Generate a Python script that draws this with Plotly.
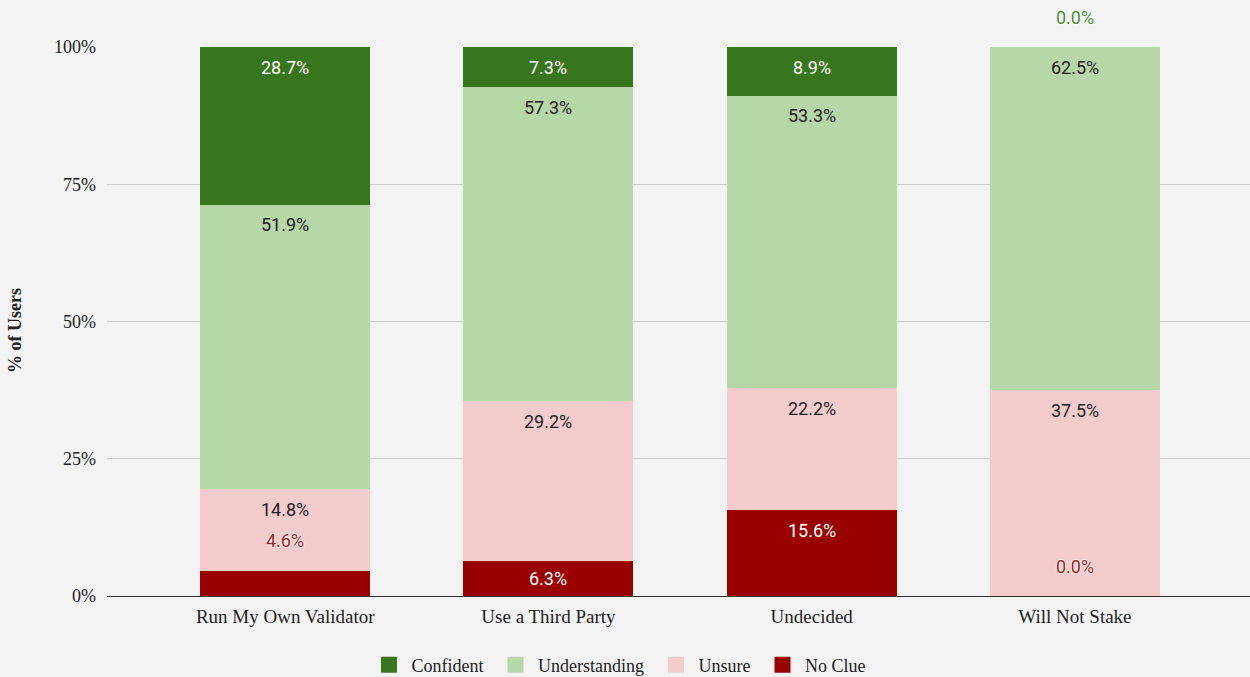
import plotly.graph_objects as go

categories = ["Run My Own Validator", "Use a Third Party", "Undecided", "Will Not Stake"]
series_names = ["No Clue", "Unsure", "Understanding", "Confident"]  # bottom to top
no_clue = [4.6, 6.3, 15.6, 0.0]
unsure = [14.8, 29.2, 22.2, 37.5]
understanding = [51.9, 57.3, 53.3, 62.5]
confident = [28.7, 7.3, 8.9, 0.0]
y_ticks = [0, 25, 50, 75, 100]

series_values = [no_clue, unsure, understanding, confident]
colors = ["#990000", "#f4cccc", "#b6d7a8", "#38761d"]
label_colors_inside = ["#ffffff", "#222222", "#222222", "#ffffff"]
label_colors_outside = ["#a52020", "#a52020", "#4a8c3a", "#4a8c3a"]
legend_ranks = [4, 3, 2, 1]

SERIF = "Liberation Serif"
SANS = "Roboto"
PX_PER_PCT = 549 / 100.0

fig = go.Figure()
totals = [sum(s[i] for s in series_values) for i in range(len(categories))]

for k, (name, vals) in enumerate(zip(series_names, series_values)):
    norm = [v / t * 100 for v, t in zip(vals, totals)]
    fig.add_trace(go.Bar(
        x=categories, y=norm, name=name, marker=dict(color=colors[k], line=dict(width=0)),
        width=0.646, showlegend=False, legendgroup=name, hoverinfo="name+y",
    ))
    # legend proxy with a larger square symbol
    fig.add_trace(go.Scatter(
        x=[None], y=[None], mode="markers", name=name + "\u00a0", legendgroup=name,
        marker=dict(symbol="square", size=16, color=colors[k], line=dict(width=0)),
        legendrank=legend_ranks[k], hoverinfo="skip",
    ))

annotations = []
for i, cat in enumerate(categories):
    base = 0.0
    for k, vals in enumerate(series_values):
        h = vals[i] / totals[i] * 100
        top = base + h
        hpx = h * PX_PER_PCT
        txt = f"{vals[i]:.1f}%"
        if hpx >= 30:
            annotations.append(dict(
                x=cat, y=top, xref="x", yref="y", text=txt, showarrow=False,
                yanchor="middle", yshift=-min(20, hpx / 2),
                font=dict(family=SANS, size=18, color=label_colors_inside[k]),
            ))
        else:
            annotations.append(dict(
                x=cat, y=top, xref="x", yref="y", text=txt, showarrow=False,
                yanchor="middle", yshift=30,
                font=dict(family=SANS, size=18, color=label_colors_outside[k],
                          shadow="0 0 2px white, 0 0 2px white, 0 0 2px white"),
            ))
        base = top

annotations.append(dict(
    text="<b>% of Users</b>", textangle=-90, xref="paper", yref="paper",
    x=(15 - 107) / 1143, y=(596 - 331) / 549, xanchor="center", yanchor="middle", showarrow=False,
    font=dict(family=SERIF, size=18, color="#222222"),
))

fig.update_layout(
    width=1250, height=677,
    paper_bgcolor="#f3f3f3", plot_bgcolor="#f3f3f3",
    margin=dict(l=107, r=0, t=47, b=81),
    barmode="stack",
    bargap=0.354,
    showlegend=True,
    legend=dict(
        orientation="h", traceorder="normal", xref="paper", x=(621 - 107) / 1143, xanchor="center",
        yref="container", y=1 - 665 / 677, yanchor="middle",
        font=dict(family=SERIF, size=18, color="#222222"), itemwidth=35,
        bgcolor="rgba(0,0,0,0)",
    ),
    xaxis=dict(
        type="category", categoryorder="array", categoryarray=categories,
        range=[-0.677, 3.665], showgrid=False, showline=True, linecolor="#333333", linewidth=1,
        tickfont=dict(family=SERIF, size=19, color="#222222"), ticks="", ticklabelstandoff=3,
    ),
    yaxis=dict(
        range=[0, 100], tickvals=y_ticks, ticktext=[f"{v}%" for v in y_ticks],
        showgrid=True, gridcolor="#cccccc", gridwidth=1, zeroline=False,
        tickfont=dict(family=SERIF, size=18, color="#222222"), ticklabelstandoff=10,
    ),
    annotations=annotations,
)

fig.write_html(
    "out.html",
    config={"displayModeBar": False},
    post_script="document.body.style.margin='0px';document.body.style.overflow='hidden';",
)
